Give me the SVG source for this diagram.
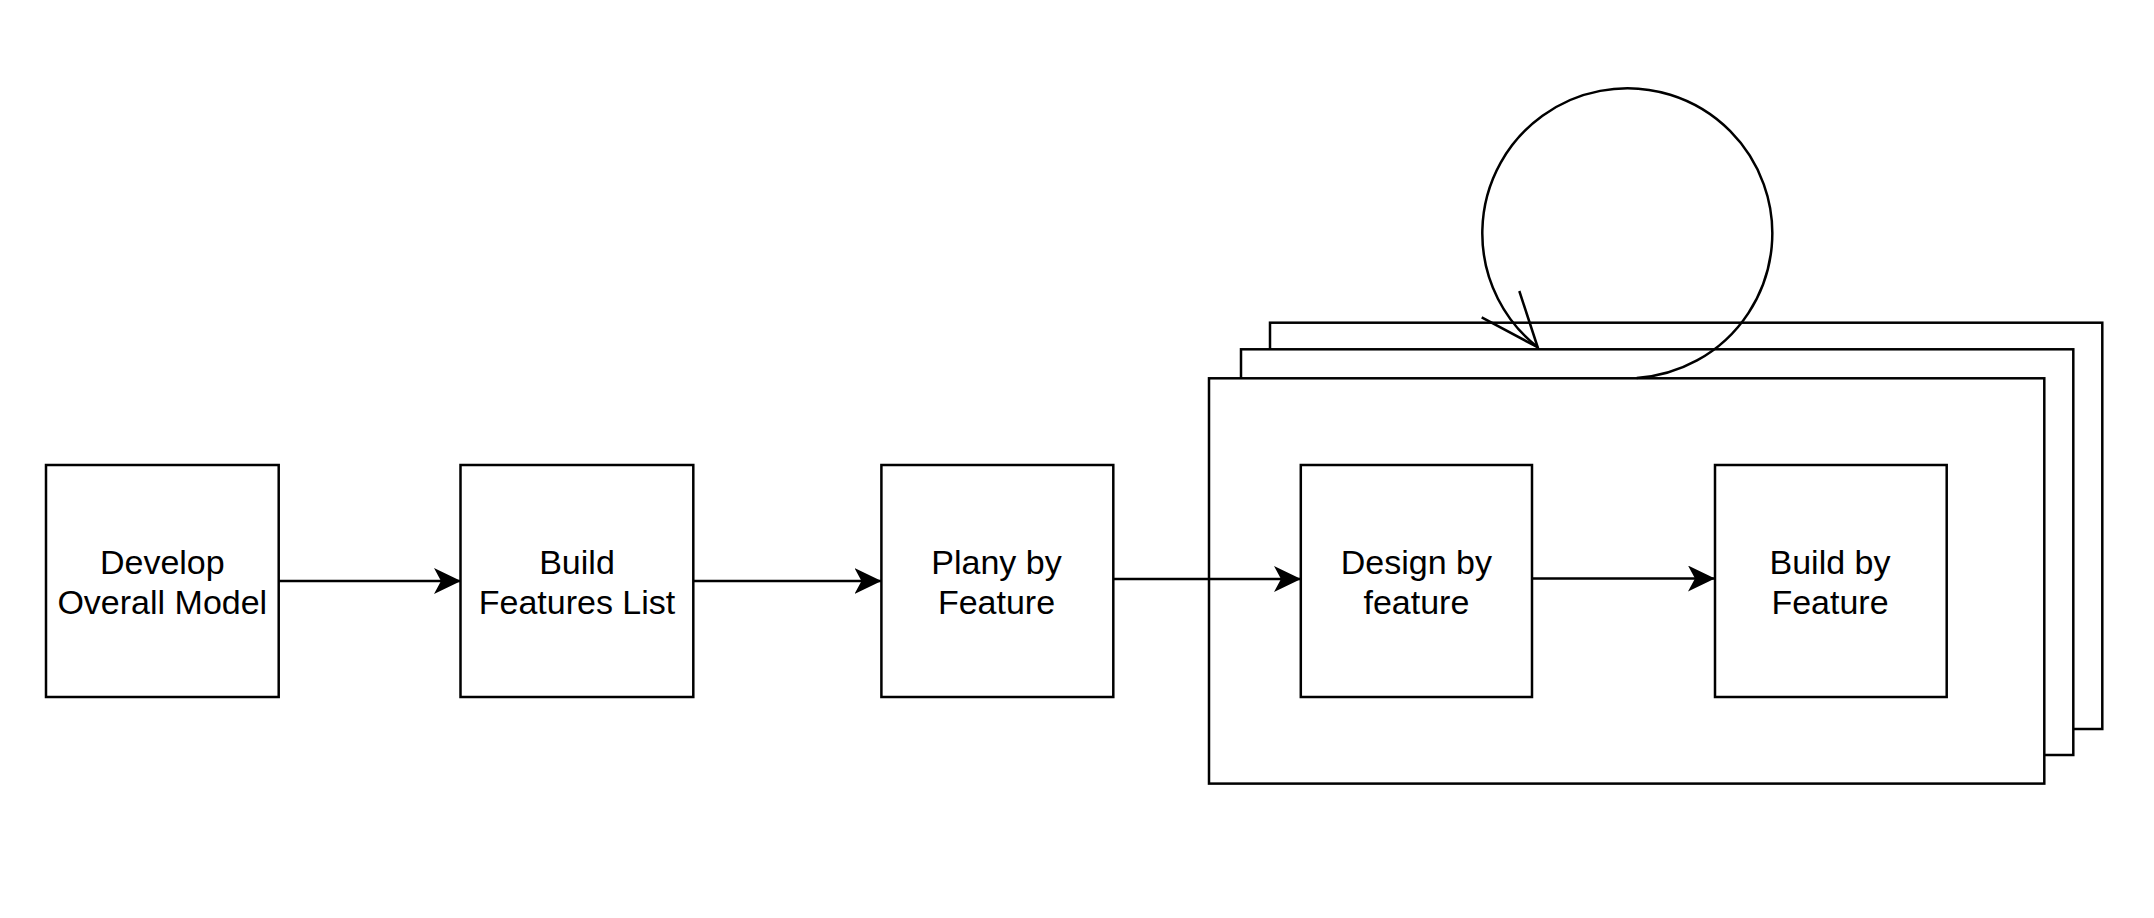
<svg xmlns="http://www.w3.org/2000/svg" width="2154" height="918" viewBox="0 0 2154 918">
  <style>
    .box { fill: #ffffff; stroke: #000000; stroke-width: 2.5; }
    .lbl { font-family: "Liberation Sans", Arial, Helvetica, sans-serif; font-size: 34px; fill: #000000; text-anchor: middle; }
    .edge { fill: none; stroke: #000000; stroke-width: 2.5; }
  </style>
  <defs>
    <marker id="classic" markerUnits="userSpaceOnUse" viewBox="0 0 27 26" refX="27" refY="13" markerWidth="27" markerHeight="26" orient="auto">
      <path d="M27,13 L0,0 L7,13 L0,26 Z" fill="#000000"/>
    </marker>
  </defs>
  <rect width="2154" height="918" fill="#ffffff"/>

  <g id="frame-stack">
    <rect class="box" x="1270" y="322.7" width="832.3" height="406.3"/>
    <rect class="box" x="1241" y="349.3" width="832.3" height="405.7"/>
    <rect class="box" x="1209" y="378.3" width="835.3" height="405.3"/>
  </g>

  <g id="develop-overall-model">
    <rect class="box" x="46" y="465" width="232.7" height="232"/>
    <text class="lbl" x="162.3" y="574">Develop</text>
    <text class="lbl" x="162.3" y="614.3">Overall Model</text>
  </g>

  <g id="build-features-list">
    <rect class="box" x="460.5" y="465" width="232.8" height="232"/>
    <text class="lbl" x="577" y="574">Build</text>
    <text class="lbl" x="577" y="614.3">Features List</text>
  </g>

  <g id="plany-by-feature">
    <rect class="box" x="881.4" y="465" width="231.9" height="232"/>
    <text class="lbl" x="996.5" y="574">Plany by</text>
    <text class="lbl" x="996.5" y="614.3">Feature</text>
  </g>

  <g id="design-by-feature">
    <rect class="box" x="1300.8" y="465" width="231.2" height="232"/>
    <text class="lbl" x="1416.4" y="574">Design by</text>
    <text class="lbl" x="1416.4" y="614.3">feature</text>
  </g>

  <g id="build-by-feature">
    <rect class="box" x="1715" y="465" width="231.7" height="232"/>
    <text class="lbl" x="1830" y="574">Build by</text>
    <text class="lbl" x="1830" y="614.3">Feature</text>
  </g>

  <g id="connectors">
    <path class="edge" d="M278.7,581 L461,581" marker-end="url(#classic)"/>
    <path class="edge" d="M693.3,581 L881.5,581" marker-end="url(#classic)"/>
    <path class="edge" d="M1113.3,579 L1301,579" marker-end="url(#classic)"/>
    <path class="edge" d="M1532,578.5 L1715,578.5" marker-end="url(#classic)"/>
    <path class="edge" d="M1636.7,378 A145,145 0 1 0 1537.7,347.3"/>
    <path class="edge" d="M1481.7,317.3 L1537.7,347.3 L1519.3,291"/>
  </g>
</svg>
